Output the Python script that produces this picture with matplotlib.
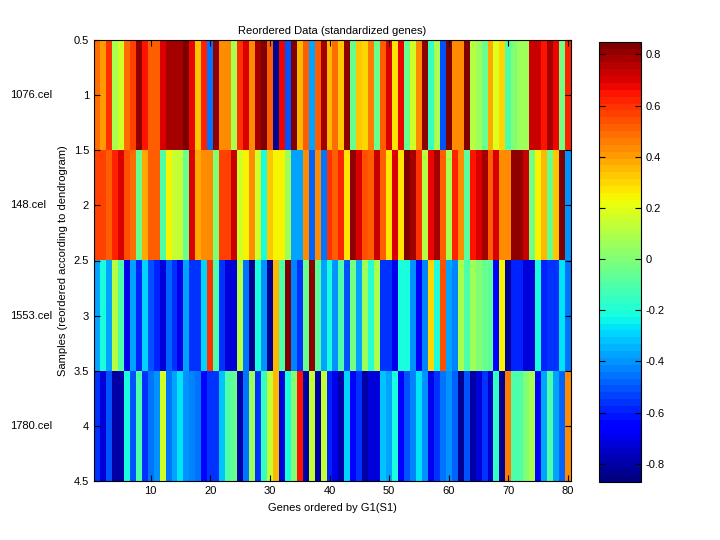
import numpy as np
import matplotlib
matplotlib.use("Agg")
import matplotlib.pyplot as plt
import matplotlib.transforms as mtrans

plt.rcParams['font.family'] = ['Liberation Sans', 'DejaVu Sans']
plt.rcParams['font.size'] = 8

## values (one list per sample, 80 genes)
samples = ['1076.cel', '148.cel', '1553.cel', '1780.cel']

row_1076 = [0.50, 0.40, 0.60, 0.08, 0.16, 0.48, 0.57, 0.80, 0.64, 0.52,
            0.52, 0.70, 0.77, 0.78, 0.78, 0.85, 0.67, 0.32, 0.62, -0.46,
            0.80, 0.43, 0.43, 0.08, 0.60, 0.70, 0.43, 0.78, 0.85, 0.52,
            -0.84, 0.67, -0.52, 0.83, 0.35, 0.52, -0.38, 0.52, 0.78, 0.35,
            0.48, 0.32, 0.80, -0.05, 0.32, 0.29, 0.45, -0.05, 0.52, 0.70,
            0.26, 0.67, -0.05, 0.16, 0.43, 0.80, -0.16, 0.08, -0.52, 0.83,
            0.43, 0.43, 0.83, 0.10, 0.05, -0.05, 0.38, 0.19, 0.29, -0.11,
            0.00, 0.05, 0.05, 0.74, 0.74, 0.64, 0.78, 0.67, -0.03, 0.62]

row_148 = [0.57, 0.57, 0.52, 0.62, 0.70, 0.55, 0.50, -0.05, 0.38, 0.52,
           0.52, -0.11, 0.24, 0.13, 0.13, -0.05, 0.70, 0.38, 0.43, 0.43,
           0.00, 0.57, 0.57, 0.74, 0.16, 0.24, 0.43, 0.16, -0.22, 0.32,
           0.24, 0.24, 0.05, -0.36, -0.36, 0.43, -0.49, 0.43, -0.46, 0.60,
           0.52, 0.62, 0.26, 0.80, 0.70, 0.55, 0.52, 0.74, 0.52, 0.26,
           0.70, 0.26, 0.83, 0.78, 0.60, 0.10, 0.67, 0.78, 0.52, 0.08,
           0.62, 0.43, -0.08, 0.64, 0.70, 0.78, 0.52, 0.70, 0.43, 0.43,
           0.80, 0.80, 0.74, -0.03, 0.24, 0.35, -0.05, 0.32, 0.83, -0.41]

row_1553 = [-0.36, -0.22, -0.38, 0.10, -0.11, -0.70, -0.36, -0.60, -0.30, -0.52,
            -0.60, -0.73, -0.49, -0.57, -0.70, -0.36, -0.55, -0.55, -0.30, 0.60,
            -0.11, -0.57, -0.73, -0.73, 0.10, -0.46, -0.84, -0.22, -0.41, -0.84,
            0.35, -0.11, 0.83, -0.44, -0.57, -0.05, 0.80, -0.08, -0.36, -0.22,
            -0.41, -0.11, -0.52, -0.03, -0.36, 0.05, -0.19, 0.08, -0.57, -0.55,
            -0.70, -0.20, -0.20, -0.41, -0.67, -0.44, 0.29, -0.22, 0.55, -0.36,
            -0.44, 0.08, -0.11, 0.05, 0.00, -0.05, -0.08, -0.67, 0.24, -0.84,
            -0.60, -0.60, -0.73, -0.73, -0.22, -0.60, -0.57, -0.57, -0.27, -0.46]

row_1780 = [-0.57, -0.73, -0.52, -0.79, -0.79, -0.22, -0.52, -0.11, -0.57, -0.46,
            -0.41, 0.16, -0.46, -0.36, -0.27, -0.41, -0.44, -0.46, -0.65, -0.55,
            -0.57, -0.33, -0.11, -0.05, -0.81, -0.46, 0.05, -0.57, -0.16, 0.13,
            0.35, -0.73, -0.22, 0.00, 0.64, -0.81, 0.13, -0.79, 0.13, -0.60,
            -0.70, -0.79, -0.30, -0.65, -0.57, -0.81, -0.73, -0.73, -0.33, -0.36,
            -0.22, -0.67, -0.52, -0.44, -0.27, -0.41, -0.70, -0.57, -0.46, -0.41,
            -0.49, -0.84, -0.52, -0.79, -0.73, -0.57, -0.76, -0.16, -0.84, 0.45,
            -0.11, -0.11, 0.00, 0.08, -0.65, -0.36, -0.11, -0.36, -0.49, 0.43]

clim = (-0.87, 0.85)
xticks = [10, 20, 30, 40, 50, 60, 70, 80]
yticks = [0.5, 1, 1.5, 2, 2.5, 3, 3.5, 4, 4.5]
ytick_labels = ['0.5', '1', '1.5', '2', '2.5', '3', '3.5', '4', '4.5']
cticks = [-0.8, -0.6, -0.4, -0.2, 0, 0.2, 0.4, 0.6, 0.8]
cticks_labels = ['-0.8', '-0.6', '-0.4', '-0.2', '0', '0.2', '0.4', '0.6', '0.8']

data = np.array([row_1076, row_148, row_1553, row_1780])
n_genes = data.shape[1]

fig = plt.figure(figsize=(7.2, 5.4), dpi=100)
W, H = 720.0, 540.0
ax = fig.add_axes([94/W, 1 - 481/H, 477/W, 441/H])
im = ax.imshow(data, cmap=plt.get_cmap('jet', 64), vmin=clim[0], vmax=clim[1],
               aspect='auto', interpolation='nearest',
               extent=(0.5, n_genes + 0.5, len(samples) + 0.5, 0.5))

ax.set_xlim(0.5, n_genes + 0.5)
ax.set_ylim(len(samples) + 0.5, 0.5)
ax.set_xticks(xticks)
ax.set_yticks(yticks)
ax.set_yticklabels(ytick_labels)
ax.tick_params(direction='in', top=True, right=True, length=4, width=0.8, labelsize=8)
ax.set_title('Reordered Data (standardized genes)', fontsize=8, pad=4)
ax.set_xlabel('Genes ordered by G1(S1)', fontsize=8, labelpad=5)
ax.set_ylabel('Samples (reordered according to dendrogram)', fontsize=8)
ax.yaxis.set_label_coords(-0.0545, 0.5)

#sample names next to the rows
trans = mtrans.blended_transform_factory(fig.transFigure, ax.transData)
for i, name in enumerate(samples):
    ax.text(10/W, i + 1, name, transform=trans, ha='left', va='center', fontsize=8)

cax = fig.add_axes([599/W, 1 - 481.7/H, 42/W, 440/H])
cb = fig.colorbar(im, cax=cax, ticks=cticks)
cb.ax.set_yticklabels(cticks_labels)
cb.ax.tick_params(direction='in', left=True, right=True, length=4, width=0.8, labelsize=8)
cb.outline.set_linewidth(0.8)

fig.savefig('out.png', dpi=100)
